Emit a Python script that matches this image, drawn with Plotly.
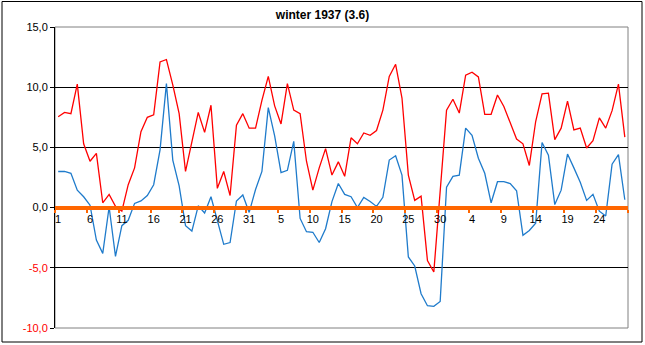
import plotly.graph_objects as go

days = list(range(1, 91))
tick_labels = ["1", "6", "11", "16", "21", "26", "31", "5", "10", "15", "20", "25", "30", "4", "9", "14", "19", "24"]
tick_positions = [1 + 5 * i for i in range(len(tick_labels))]

max_temp = [7.55, 7.9, 7.8, 10.25, 5.3, 3.85, 4.5, 0.4, 1.1, 0.1,
            -0.3, 1.9, 3.3, 6.3, 7.5, 7.7, 12.1, 12.3, 10.2, 7.8,
            3.0, 5.5, 7.9, 6.25, 8.5, 1.6, 3.0, 1.0, 6.85, 7.8,
            6.6, 6.6, 8.9, 10.9, 8.45, 6.95, 10.3, 8.1, 7.8, 3.85,
            1.45, 3.3, 4.9, 2.7, 3.8, 2.6, 5.8, 5.3, 6.2, 6.0,
            6.4, 8.1, 10.9, 11.9, 9.1, 2.7, 0.6, 0.95, -4.4, -5.35,
            1.45, 8.1, 9.0, 7.85, 11.0, 11.25, 10.85, 7.75, 7.75, 9.35,
            8.4, 7.0, 5.7, 5.3, 3.5, 7.15, 9.45, 9.5, 5.65, 6.6,
            8.85, 6.45, 6.6, 4.95, 5.55, 7.45, 6.6, 8.05, 10.25, 5.85]

min_temp = [3.0, 3.0, 2.85, 1.45, 0.9, 0.2, -2.7, -3.8, 0.05, -4.05,
            -1.5, -1.05, 0.35, 0.55, 1.0, 1.9, 4.8, 10.3, 3.95, 1.8,
            -1.5, -1.95, 0.15, -0.45, 0.9, -1.05, -3.05, -2.9, 0.55, 1.05,
            -0.4, 1.5, 3.0, 8.3, 5.95, 2.9, 3.1, 5.5, -0.9, -2.0,
            -2.05, -2.9, -1.75, 0.5, 2.0, 1.1, 0.9, 0.0, 0.85, 0.5,
            0.1, 0.85, 3.95, 4.3, 2.7, -4.1, -4.85, -7.15, -8.15, -8.2,
            -7.8, 1.7, 2.6, 2.7, 6.6, 6.0, 4.1, 2.85, 0.4, 2.15,
            2.15, 2.0, 1.4, -2.3, -1.9, -1.3, 5.4, 4.35, 0.25, 1.45,
            4.45, 3.3, 2.1, 0.6, 1.1, -0.3, -0.7, 3.6, 4.4, 0.65]

y_ticks = [15, 10, 5, 0, -5, -10]
y_tick_text = ["15,0", "10,0", "5,0", "0,0",
               '<span style="color:#FF0000">-5,0</span>',
               '<span style="color:#FF0000">-10,0</span>']

FONT = "Liberation Sans, Arial, sans-serif"

fig = go.Figure()
fig.add_trace(go.Scatter(x=days, y=max_temp, mode="lines",
                         line=dict(color="#FF0000", width=1.3), showlegend=False))
fig.add_trace(go.Scatter(x=days, y=min_temp, mode="lines",
                         line=dict(color="#1F7BCB", width=1.3), showlegend=False))

W, H = 645, 345
L, R, T, B = 55, 17, 27, 17
pw = W - L - R
ph = H - T - B

def px_x(x):
    return (x - L) / pw

def px_y(y):
    return 1 - (y - T) / ph

fig.update_layout(
    width=W, height=H,
    margin=dict(l=L, r=R, t=T, b=B),
    paper_bgcolor="white", plot_bgcolor="white",
    font=dict(family=FONT, size=11, color="#000000"),
    title=dict(text="<b>winter 1937 (3.6)</b>", x=0.5, xref="container", xanchor="center",
               y=1 - 15 / H, yref="container", yanchor="middle",
               font=dict(family=FONT, size=12, color="#000000")),
    xaxis=dict(range=[0.5, 90.5], tickmode="array", tickvals=tick_positions, ticktext=tick_labels,
               showgrid=False, zeroline=False, anchor="free", position=0.4,
               showline=True, linecolor="#FF6600", linewidth=4,
               ticks="", ticklen=0,
               minor=dict(tickvals=[0.5 + 5 * i for i in range(19)], ticks="outside",
                          ticklen=3, tickcolor="#FF6600", tickwidth=2, showgrid=False),
               tickfont=dict(family=FONT, size=11, color="#000000")),
    yaxis=dict(range=[-10, 15], tickmode="array", tickvals=y_ticks, ticktext=y_tick_text,
               showgrid=True, gridcolor="#000000", gridwidth=1, zeroline=False,
               showline=True, linecolor="#000000", linewidth=1,
               ticks="outside", ticklen=4, tickcolor="#000000",
               tickfont=dict(family=FONT, size=11, color="#000000")),
    shapes=[
        dict(type="rect", xref="paper", yref="paper", x0=0, x1=1, y0=0, y1=1,
             line=dict(color="#808080", width=1), layer="between"),
        dict(type="rect", xref="paper", yref="paper",
             x0=px_x(2), x1=px_x(642), y0=px_y(342), y1=px_y(1.5),
             line=dict(color="#000000", width=1), layer="above"),
    ],
)

fig.write_html("out.html")
